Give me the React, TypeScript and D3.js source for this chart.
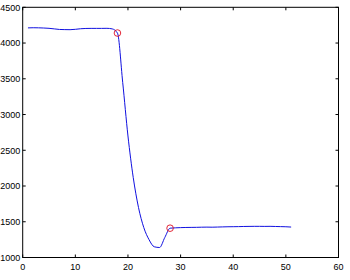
import React from "react";
import * as d3 from "d3";

const xs: number[] = Array.from({ length: 51 }, (_, i) => i + 1);
const values: number[] = [
  4212, 4214, 4213, 4210, 4206, 4198, 4190, 4188, 4187, 4192,
  4200, 4204, 4205, 4205, 4205, 4206, 4198, 4140, 3450, 2700,
  2120, 1700, 1420, 1250, 1150, 1140, 1280, 1410, 1415, 1418,
  1420, 1421, 1422, 1424, 1425, 1424, 1426, 1428, 1430, 1431,
  1432, 1434, 1435, 1436, 1436, 1435, 1436, 1434, 1432, 1430,
  1426,
];
const markerX: number[] = [18, 28];
const markerY: number[] = [4140, 1410];
const xTicks: number[] = [0, 10, 20, 30, 40, 50, 60];
const yTicks: number[] = [1000, 1500, 2000, 2500, 3000, 3500, 4000, 4500];

export default function App() {
  const W = 350, H = 280;
  const L = 22.7, R = 338.5, T = 7.3, B = 257.5;
  const x = d3.scaleLinear().domain([0, 60]).range([L, R]);
  const y = d3.scaleLinear().domain([1000, 4500]).range([B, T]);
  const line = d3
    .line<number>()
    .x((_, i) => x(xs[i]))
    .y((d) => y(d))
    .curve(d3.curveMonotoneX);
  const tl = 3;
  const font = "'Liberation Sans', Arial, sans-serif";
  return (
    <svg
      width={W}
      height={H}
      style={{ position: "absolute", left: 0, top: 0, background: "#fff" }}
    >
      <rect x={0} y={0} width={W} height={H} fill="#fff" />
      <path d={line(values) || ""} fill="none" stroke="#1010e0" strokeWidth={1} />
      {markerX.map((mx, i) => (
        <circle
          key={i}
          cx={x(mx)}
          cy={y(markerY[i])}
          r={3.3}
          fill="none"
          stroke="#e01020"
          strokeWidth={0.9}
        />
      ))}
      <rect x={L} y={T} width={R - L} height={B - T} fill="none" stroke="#000" strokeWidth={1} />
      {xTicks.map((t) => (
        <g key={"x" + t}>
          <line x1={x(t)} x2={x(t)} y1={B} y2={B - tl} stroke="#000" />
          <line x1={x(t)} x2={x(t)} y1={T} y2={T + tl} stroke="#000" />
          <text x={x(t)} y={269.5} fontSize={9} fontFamily={font} textAnchor="middle" fill="#000">
            {t}
          </text>
        </g>
      ))}
      {yTicks.map((t) => (
        <g key={"y" + t}>
          <line x1={L} x2={L + tl} y1={y(t)} y2={y(t)} stroke="#000" />
          <line x1={R} x2={R - tl} y1={y(t)} y2={y(t)} stroke="#000" />
          <text x={L - 2.5} y={y(t) + 3.3} fontSize={9} fontFamily={font} textAnchor="end" fill="#000">
            {t}
          </text>
        </g>
      ))}
    </svg>
  );
}
